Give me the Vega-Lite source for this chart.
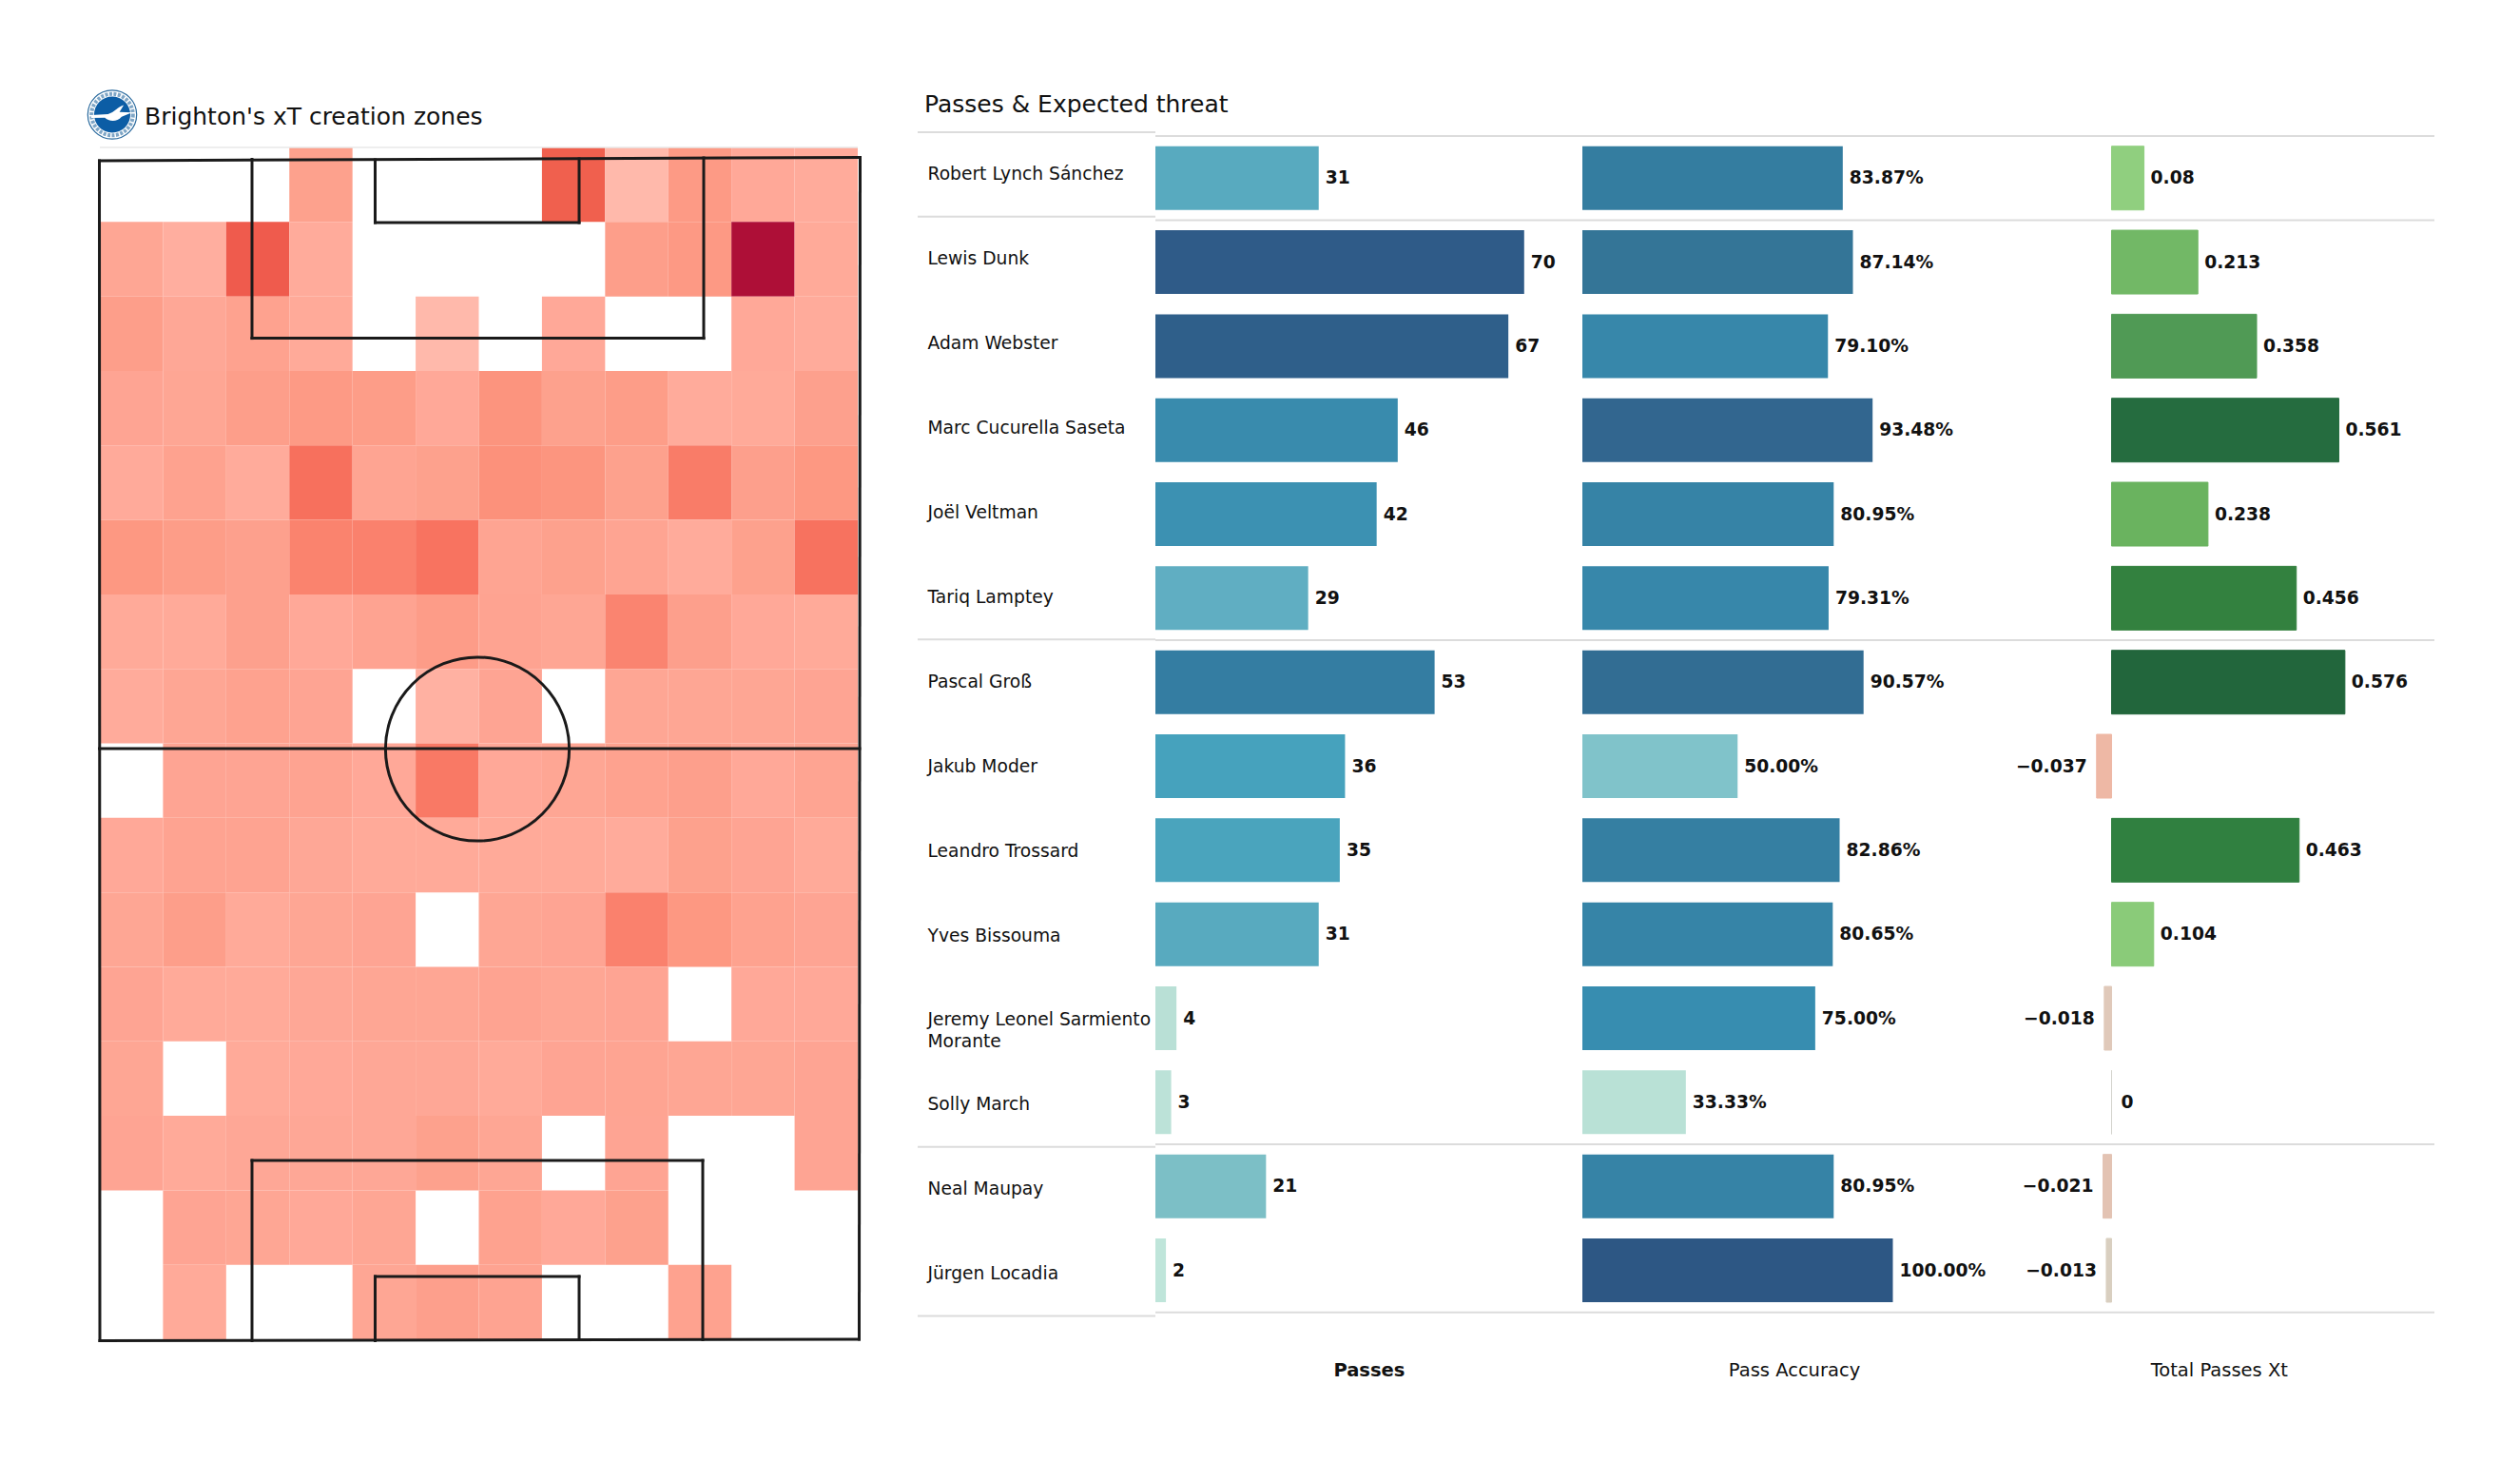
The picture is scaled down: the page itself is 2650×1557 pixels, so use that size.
{"$schema":"https://vega.github.io/schema/vega-lite/v6.json","padding":0,"spacing":0,"bounds":"flush","background":"white","config":{"view":{"stroke":null},"text":{"font":"DejaVu Sans"},"font":"DejaVu Sans"},"resolve":{"scale":{"color":"independent"}},
"datasets":{
"players":[
{"row":0,"player":"Robert Lynch Sánchez","passes":31,"acc":83.87,"acc_label":"83.87%","xt":0.08},
{"row":1,"player":"Lewis Dunk","passes":70,"acc":87.14,"acc_label":"87.14%","xt":0.213},
{"row":2,"player":"Adam Webster","passes":67,"acc":79.10,"acc_label":"79.10%","xt":0.358},
{"row":3,"player":"Marc Cucurella Saseta","passes":46,"acc":93.48,"acc_label":"93.48%","xt":0.561},
{"row":4,"player":"Joël Veltman","passes":42,"acc":80.95,"acc_label":"80.95%","xt":0.238},
{"row":5,"player":"Tariq Lamptey","passes":29,"acc":79.31,"acc_label":"79.31%","xt":0.456},
{"row":6,"player":"Pascal Groß","passes":53,"acc":90.57,"acc_label":"90.57%","xt":0.576},
{"row":7,"player":"Jakub Moder","passes":36,"acc":50.00,"acc_label":"50.00%","xt":-0.037},
{"row":8,"player":"Leandro Trossard","passes":35,"acc":82.86,"acc_label":"82.86%","xt":0.463},
{"row":9,"player":"Yves Bissouma","passes":31,"acc":80.65,"acc_label":"80.65%","xt":0.104},
{"row":10,"player":"Jeremy Leonel Sarmiento\nMorante","passes":4,"acc":75.00,"acc_label":"75.00%","xt":-0.018},
{"row":11,"player":"Solly March","passes":3,"acc":33.33,"acc_label":"33.33%","xt":0},
{"row":12,"player":"Neal Maupay","passes":21,"acc":80.95,"acc_label":"80.95%","xt":-0.021},
{"row":13,"player":"Jürgen Locadia","passes":2,"acc":100.00,"acc_label":"100.00%","xt":-0.013}],
"seps":[{"pos":-0.5},{"pos":0.5},{"pos":5.5},{"pos":11.5},{"pos":13.5}],
"lines":[
{"x":0,"y":124.05,"x2":0.05,"y2":0},{"x":80,"y":124.4,"x2":79.9,"y2":0.15},{"x":0,"y":124.05,"x2":80,"y2":124.4},{"x":0.05,"y":0,"x2":79.9,"y2":0.15},{"x":0,"y":62.25,"x2":79.95,"y2":62.25},
{"x":16.05,"y":124.2,"x2":16.05,"y2":105.39},{"x":63.55,"y":124.35,"x2":63.55,"y2":105.39},{"x":16.05,"y":105.39,"x2":63.55,"y2":105.39},
{"x":29,"y":124.15,"x2":29,"y2":117.55},{"x":50.45,"y":124.25,"x2":50.45,"y2":117.55},{"x":29,"y":117.55,"x2":50.45,"y2":117.55},
{"x":16.05,"y":18.95,"x2":16.05,"y2":0},{"x":63.45,"y":18.95,"x2":63.45,"y2":0.1},{"x":16.05,"y":18.95,"x2":63.45,"y2":18.95},
{"x":29,"y":6.75,"x2":29,"y2":0},{"x":50.45,"y":6.75,"x2":50.45,"y2":0.1},{"x":29,"y":6.75,"x2":50.45,"y2":6.75}],
"cells":[
{"r":0,"c":3,"v":0.18},{"r":0,"c":7,"v":0.6},{"r":0,"c":8,"v":0.01},{"r":0,"c":9,"v":0.23},{"r":0,"c":10,"v":0.12},{"r":0,"c":11,"v":0.1},
{"r":1,"c":0,"v":0.14},{"r":1,"c":1,"v":0.08},{"r":1,"c":2,"v":0.63},{"r":1,"c":3,"v":0.1},{"r":1,"c":8,"v":0.2},{"r":1,"c":9,"v":0.24},{"r":1,"c":10,"v":1},{"r":1,"c":11,"v":0.11},
{"r":2,"c":0,"v":0.2},{"r":2,"c":1,"v":0.13},{"r":2,"c":2,"v":0.17},{"r":2,"c":3,"v":0.11},{"r":2,"c":5,"v":0.01},{"r":2,"c":7,"v":0.12},{"r":2,"c":10,"v":0.12},{"r":2,"c":11,"v":0.1},
{"r":3,"c":0,"v":0.15},{"r":3,"c":1,"v":0.14},{"r":3,"c":2,"v":0.2},{"r":3,"c":3,"v":0.23},{"r":3,"c":4,"v":0.21},{"r":3,"c":5,"v":0.12},{"r":3,"c":6,"v":0.28},{"r":3,"c":7,"v":0.18},{"r":3,"c":8,"v":0.21},{"r":3,"c":9,"v":0.1},{"r":3,"c":10,"v":0.11},{"r":3,"c":11,"v":0.185},
{"r":4,"c":0,"v":0.105},{"r":4,"c":1,"v":0.17},{"r":4,"c":2,"v":0.1},{"r":4,"c":3,"v":0.5},{"r":4,"c":4,"v":0.155},{"r":4,"c":5,"v":0.18},{"r":4,"c":6,"v":0.3},{"r":4,"c":7,"v":0.27},{"r":4,"c":8,"v":0.18},{"r":4,"c":9,"v":0.43},{"r":4,"c":10,"v":0.19},{"r":4,"c":11,"v":0.25},
{"r":5,"c":0,"v":0.25},{"r":5,"c":1,"v":0.21},{"r":5,"c":2,"v":0.185},{"r":5,"c":3,"v":0.39},{"r":5,"c":4,"v":0.4},{"r":5,"c":5,"v":0.48},{"r":5,"c":6,"v":0.155},{"r":5,"c":7,"v":0.18},{"r":5,"c":8,"v":0.155},{"r":5,"c":9,"v":0.1},{"r":5,"c":10,"v":0.18},{"r":5,"c":11,"v":0.49},
{"r":6,"c":0,"v":0.11},{"r":6,"c":1,"v":0.11},{"r":6,"c":2,"v":0.185},{"r":6,"c":3,"v":0.12},{"r":6,"c":4,"v":0.16},{"r":6,"c":5,"v":0.215},{"r":6,"c":6,"v":0.16},{"r":6,"c":7,"v":0.14},{"r":6,"c":8,"v":0.38},{"r":6,"c":9,"v":0.19},{"r":6,"c":10,"v":0.12},{"r":6,"c":11,"v":0.11},
{"r":7,"c":0,"v":0.1},{"r":7,"c":1,"v":0.14},{"r":7,"c":2,"v":0.17},{"r":7,"c":3,"v":0.15},{"r":7,"c":5,"v":0.06},{"r":7,"c":6,"v":0.15},{"r":7,"c":8,"v":0.14},{"r":7,"c":9,"v":0.14},{"r":7,"c":10,"v":0.14},{"r":7,"c":11,"v":0.15},
{"r":8,"c":1,"v":0.15},{"r":8,"c":2,"v":0.15},{"r":8,"c":3,"v":0.16},{"r":8,"c":4,"v":0.12},{"r":8,"c":5,"v":0.45},{"r":8,"c":6,"v":0.12},{"r":8,"c":7,"v":0.14},{"r":8,"c":8,"v":0.17},{"r":8,"c":9,"v":0.19},{"r":8,"c":10,"v":0.12},{"r":8,"c":11,"v":0.155},
{"r":9,"c":0,"v":0.12},{"r":9,"c":1,"v":0.16},{"r":9,"c":2,"v":0.16},{"r":9,"c":3,"v":0.13},{"r":9,"c":4,"v":0.11},{"r":9,"c":5,"v":0.11},{"r":9,"c":6,"v":0.11},{"r":9,"c":7,"v":0.11},{"r":9,"c":8,"v":0.1},{"r":9,"c":9,"v":0.18},{"r":9,"c":10,"v":0.15},{"r":9,"c":11,"v":0.11},
{"r":10,"c":0,"v":0.14},{"r":10,"c":1,"v":0.2},{"r":10,"c":2,"v":0.11},{"r":10,"c":3,"v":0.14},{"r":10,"c":4,"v":0.15},{"r":10,"c":6,"v":0.14},{"r":10,"c":7,"v":0.15},{"r":10,"c":8,"v":0.4},{"r":10,"c":9,"v":0.25},{"r":10,"c":10,"v":0.17},{"r":10,"c":11,"v":0.15},
{"r":11,"c":0,"v":0.15},{"r":11,"c":1,"v":0.11},{"r":11,"c":2,"v":0.11},{"r":11,"c":3,"v":0.13},{"r":11,"c":4,"v":0.14},{"r":11,"c":5,"v":0.14},{"r":11,"c":6,"v":0.16},{"r":11,"c":7,"v":0.14},{"r":11,"c":8,"v":0.15},{"r":11,"c":10,"v":0.12},{"r":11,"c":11,"v":0.12},
{"r":12,"c":0,"v":0.14},{"r":12,"c":2,"v":0.11},{"r":12,"c":3,"v":0.12},{"r":12,"c":4,"v":0.13},{"r":12,"c":5,"v":0.13},{"r":12,"c":6,"v":0.11},{"r":12,"c":7,"v":0.15},{"r":12,"c":8,"v":0.155},{"r":12,"c":9,"v":0.14},{"r":12,"c":10,"v":0.14},{"r":12,"c":11,"v":0.15},
{"r":13,"c":0,"v":0.15},{"r":13,"c":1,"v":0.11},{"r":13,"c":2,"v":0.13},{"r":13,"c":3,"v":0.13},{"r":13,"c":4,"v":0.13},{"r":13,"c":5,"v":0.18},{"r":13,"c":6,"v":0.14},{"r":13,"c":8,"v":0.15},{"r":13,"c":11,"v":0.15},
{"r":14,"c":1,"v":0.15},{"r":14,"c":2,"v":0.14},{"r":14,"c":3,"v":0.12},{"r":14,"c":4,"v":0.14},{"r":14,"c":6,"v":0.17},{"r":14,"c":7,"v":0.12},{"r":14,"c":8,"v":0.18},
{"r":15,"c":1,"v":0.11},{"r":15,"c":4,"v":0.14},{"r":15,"c":5,"v":0.19},{"r":15,"c":6,"v":0.16},{"r":15,"c":9,"v":0.17}]
},
"hconcat":[
{"width":965,"height":1557,"resolve":{"scale":{"x":"independent","y":"independent"}},
"layer":[
{"data":{"name":"cells"},"mark":{"type":"rect"},"encoding":{
"x":{"field":"c","type":"ordinal","axis":null,"scale":{"range":[105,902],"paddingInner":0,"paddingOuter":0}},
"y":{"field":"r","type":"ordinal","axis":null,"scale":{"range":[155,1408],"paddingInner":0,"paddingOuter":0}},
"color":{"field":"v","type":"quantitative","legend":null,"scale":{"domain":[0,0.1,0.2,0.3,0.4,0.5,0.6,0.65,1],"range":["#ffbbad","#ffab9b","#fd9e8a","#fc917b","#fa816d","#f7705d","#f0604e","#ee584c","#ae0f37"]}}}},
{"encoding":{
"x":{"field":"x","type":"quantitative","axis":null,"scale":{"domain":[-10.45,86.05],"nice":false,"zero":false}},
"y":{"field":"y","type":"quantitative","axis":null,"scale":{"domain":[-14.75,140.95],"nice":false,"zero":false}}},
"layer":[
{"data":{"values":[{"x":0.05,"y":125.45,"x2":79.75,"y2":125.45}]},"mark":{"type":"rule","color":"#e8e8e8","strokeWidth":1.5},"encoding":{"x2":{"field":"x2"},"y2":{"field":"y2"}}},
{"data":{"name":"lines"},"mark":{"type":"rule","color":"#1a1a1a","strokeWidth":3,"strokeCap":"square"},"encoding":{"x2":{"field":"x2"},"y2":{"field":"y2"}}},
{"data":{"values":[{"x":39.75,"y":62.2}]},"mark":{"type":"point","shape":"circle","filled":false,"size":37325,"stroke":"#1a1a1a","strokeWidth":3,"opacity":1}},
{"data":{"values":[{"x":1.35,"y":128.9}]},"mark":{"type":"point","shape":"circle","filled":true,"size":2640,"fill":"white","stroke":"#2a6a9e","strokeWidth":1.2,"opacity":1}},
{"data":{"values":[{"x":1.35,"y":128.9}]},"mark":{"type":"point","shape":"circle","filled":false,"size":1900,"stroke":"#7fa6c6","strokeWidth":4,"strokeDash":[3,1.5],"opacity":1}},
{"data":{"values":[{"x":1.35,"y":128.9}]},"mark":{"type":"point","shape":"circle","filled":true,"size":1450,"fill":"#0c5da5","opacity":1}},
{"data":{"values":[{"x":1.35,"y":128.9}]},"mark":{"type":"point","filled":true,"fill":"white","size":1936,"opacity":1,"shape":"M-1,0.02 L-0.2,-0.02 C0.1,-0.1 0.3,-0.4 0.55,-0.45 L0.35,-0.12 L0.95,-0.1 L0.45,0.1 C0.2,0.4 -0.2,0.3 -0.35,0.15 L-1,0.16 Z"}},
{"data":{"values":[{"x":4.75,"y":128.65,"label":"Brighton's xT creation zones"}]},"mark":{"type":"text","align":"left","baseline":"middle","fontSize":25,"font":"DejaVu Sans","color":"#111111"},"encoding":{"text":{"field":"label"}}}
]}]},
{"width":250,"height":1557,"encoding":{"y":{"field":"row","type":"quantitative","axis":null,"scale":{"domain":[-2.063,15.451],"reverse":true,"nice":false,"zero":false}}},
"layer":[
{"data":{"name":"seps"},"mark":{"type":"rule","color":"#dcdcdc","strokeWidth":2},"encoding":{"y":{"field":"pos","type":"quantitative","axis":null,"scale":{"domain":[-2.063,15.451],"reverse":true,"nice":false,"zero":false}}}},
{"data":{"name":"players"},"mark":{"type":"text","align":"left","baseline":"middle","fontSize":18.7,"font":"DejaVu Sans","lineHeight":22.6,"lineBreak":"\n","color":"#111111"},"encoding":{"x":{"datum":0,"type":"quantitative","axis":null,"scale":{"domain":[-10.5,239.5],"nice":false,"zero":false}},"text":{"field":"player"}}},
{"data":{"values":[{"row":-0.826,"label":"Passes & Expected threat"}]},"mark":{"type":"text","align":"left","baseline":"middle","fontSize":25,"font":"DejaVu Sans","color":"#111111"},"encoding":{"x":{"datum":-3.5,"type":"quantitative","axis":null,"scale":{"domain":[-10.5,239.5],"nice":false,"zero":false}},"text":{"field":"label"}}}
]},
{"width":449,"height":1557,"encoding":{"y":{"field":"row","type":"quantitative","axis":null,"scale":{"domain":[-2.063,15.451],"reverse":true,"nice":false,"zero":false}},"x":{"field":"passes","type":"quantitative","axis":null,"scale":{"domain":[0,81.05],"nice":false,"zero":false}}},
"layer":[
{"data":{"name":"seps"},"mark":{"type":"rule","color":"#dcdcdc","strokeWidth":2},"encoding":{"x":null,"y":{"field":"pos","type":"quantitative","axis":null,"scale":{"domain":[-2.063,15.451],"reverse":true,"nice":false,"zero":false}}}},
{"data":{"name":"players"},"mark":{"type":"bar","orient":"horizontal","size":67},"encoding":{"color":{"field":"passes","type":"quantitative","legend":null,"scale":{"domain":[2,4,21,29,31,36,42,46,53,67,70],"range":["#bfe5da","#b9e0d6","#7cbfc6","#60aec2","#58aabf","#46a2bd","#3c91b2","#398bad","#347da2","#2f5f8a","#2f5b88"]}}}},
{"data":{"name":"players"},"mark":{"type":"text","align":"left","baseline":"middle","dx":7,"fontSize":18.7,"fontWeight":"bold","font":"DejaVu Sans","color":"#111111"},"encoding":{"text":{"field":"passes","type":"quantitative","format":"d"}}},
{"data":{"values":[{"row":14.19,"passes":40.6,"label":"Passes"}]},"mark":{"type":"text","align":"center","baseline":"middle","fontSize":19.5,"fontWeight":"bold","font":"DejaVu Sans","color":"#111111"},"encoding":{"text":{"field":"label"}}}
]},
{"width":436,"height":1557,"encoding":{"y":{"field":"row","type":"quantitative","axis":null,"scale":{"domain":[-2.063,15.451],"reverse":true,"nice":false,"zero":false}},"x":{"field":"acc","type":"quantitative","axis":null,"scale":{"domain":[0,133.54],"nice":false,"zero":false}}},
"layer":[
{"data":{"name":"seps"},"mark":{"type":"rule","color":"#dcdcdc","strokeWidth":2},"encoding":{"x":null,"y":{"field":"pos","type":"quantitative","axis":null,"scale":{"domain":[-2.063,15.451],"reverse":true,"nice":false,"zero":false}}}},
{"data":{"name":"players"},"mark":{"type":"bar","orient":"horizontal","size":67},"encoding":{"color":{"field":"acc","type":"quantitative","legend":null,"scale":{"domain":[33.33,50,75,79.1,83.87,87.14,93.48,100],"range":["#b9e1d6","#80c3ca","#378db0","#3787aa","#347da0","#347597","#32668f","#2d5784"]}}}},
{"data":{"name":"players"},"mark":{"type":"text","align":"left","baseline":"middle","dx":7,"fontSize":18.7,"fontWeight":"bold","font":"DejaVu Sans","color":"#111111"},"encoding":{"text":{"field":"acc_label"}}},
{"data":{"values":[{"row":14.19,"acc":68.3,"label":"Pass Accuracy"}]},"mark":{"type":"text","align":"center","baseline":"middle","fontSize":19.5,"font":"DejaVu Sans","color":"#111111"},"encoding":{"text":{"field":"label"}}}
]},
{"width":460,"height":1557,"encoding":{"y":{"field":"row","type":"quantitative","axis":null,"scale":{"domain":[-2.063,15.451],"reverse":true,"nice":false,"zero":false}},"x":{"field":"xt","type":"quantitative","axis":null,"scale":{"domain":[-0.2829,0.797],"nice":false,"zero":false}}},
"layer":[
{"data":{"name":"seps"},"mark":{"type":"rule","color":"#dcdcdc","strokeWidth":2},"encoding":{"x":null,"y":{"field":"pos","type":"quantitative","axis":null,"scale":{"domain":[-2.063,15.451],"reverse":true,"nice":false,"zero":false}}}},
{"data":{"name":"players"},"mark":{"type":"bar","orient":"horizontal","size":67,"strokeWidth":1},"encoding":{"x":{"field":"xt","type":"quantitative","axis":null,"scale":{"domain":[-0.2829,0.797],"nice":false,"zero":false}},"x2":{"datum":0},
"color":{"field":"xt","type":"quantitative","legend":null,"scale":{"domain":[-0.037,-0.021,-0.018,-0.013,0,0.08,0.104,0.213,0.238,0.358,0.456,0.463,0.561,0.576],"range":["#eeb8a5","#e3c3b3","#e0c9ba","#d9cfc0","#d3d3cc","#90cf7f","#8acb79","#72b866","#6ab35f","#509a55","#33813f","#308040","#256c3f","#22663c"]}},
"stroke":{"field":"xt","type":"quantitative","legend":null,"scale":{"domain":[-0.037,-0.021,-0.018,-0.013,0,0.08,0.104,0.213,0.238,0.358,0.456,0.463,0.561,0.576],"range":["#eeb8a5","#e3c3b3","#e0c9ba","#d9cfc0","#d3d3cc","#90cf7f","#8acb79","#72b866","#6ab35f","#509a55","#33813f","#308040","#256c3f","#22663c"]}}}},
{"data":{"name":"players"},"transform":[{"filter":"datum.xt>0"}],"mark":{"type":"text","align":"left","baseline":"middle","dx":7,"fontSize":18.7,"fontWeight":"bold","font":"DejaVu Sans","color":"#111111"},"encoding":{"text":{"field":"xt","type":"quantitative","format":"~g"}}},
{"data":{"name":"players"},"transform":[{"filter":"datum.xt===0"}],"mark":{"type":"text","align":"left","baseline":"middle","dx":10,"fontSize":18.7,"fontWeight":"bold","font":"DejaVu Sans","color":"#111111"},"encoding":{"text":{"field":"xt","type":"quantitative","format":"~g"}}},
{"data":{"name":"players"},"transform":[{"filter":"datum.xt<0"}],"mark":{"type":"text","align":"right","baseline":"middle","dx":-10,"fontSize":18.7,"fontWeight":"bold","font":"DejaVu Sans","color":"#111111"},"encoding":{"text":{"field":"xt","type":"quantitative","format":"~g"}}},
{"data":{"values":[{"row":14.19,"xt":0.266,"label":"Total Passes Xt"}]},"mark":{"type":"text","align":"center","baseline":"middle","fontSize":19.5,"font":"DejaVu Sans","color":"#111111"},"encoding":{"text":{"field":"label"}}}
]}
]}
